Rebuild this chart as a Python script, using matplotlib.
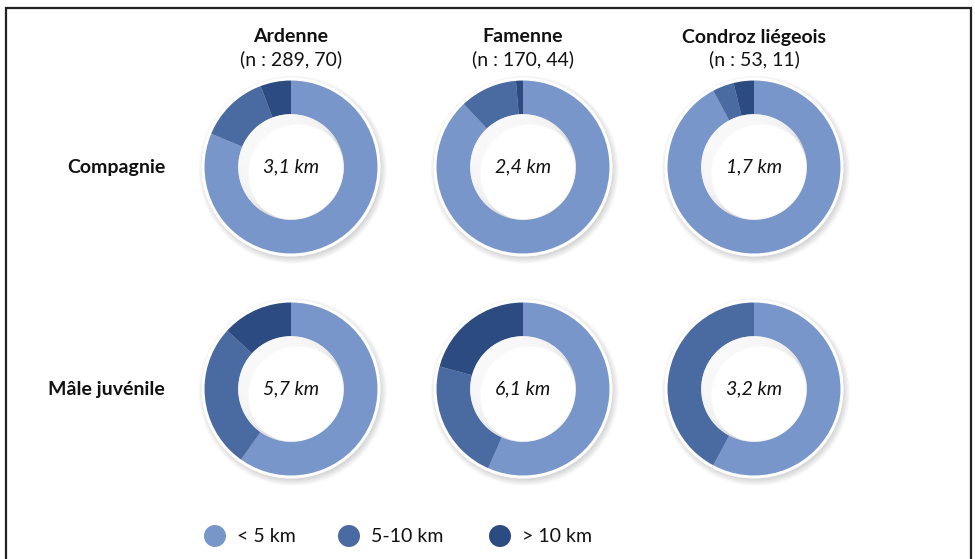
import matplotlib
matplotlib.use("Agg")
import matplotlib.pyplot as plt
from matplotlib.patches import Circle

# ---- data ----
regions = ["Ardenne", "Famenne", "Condroz liégeois"]
sample_sizes = ["(n : 289, 70)", "(n : 170, 44)", "(n : 53, 11)"]
groups = ["Compagnie", "Mâle juvénile"]
categories = ["< 5 km", "5-10 km", "> 10 km"]
# shares (%) per group, per region: [<5, 5-10, >10]
compagnie = [[81.3, 13.0, 5.7], [88.0, 10.7, 1.3], [92.2, 4.0, 3.8]]
male_juvenile = [[59.8, 27.0, 13.2], [56.6, 22.6, 20.8], [57.8, 42.2, 0.0]]
median_compagnie = ["3,1 km", "2,4 km", "1,7 km"]
median_male = ["5,7 km", "6,1 km", "3,2 km"]

colors = ["#7896CA", "#4A6AA2", "#2C4B80"]

W, H = 975, 559
fig = plt.figure(figsize=(W / 100, H / 100), dpi=100)
fig.patch.set_facecolor("white")

FONT = "Lato"
FS = 14

# frame (open at the bottom)
bg = fig.add_axes([0, 0, 1, 1])
bg.set_xlim(0, W)
bg.set_ylim(H, 0)
bg.axis("off")
bg.plot([5.5, 5.5, 971, 971], [H + 5, 8, 8, H + 5], color="#222222", lw=1.6,
        solid_joinstyle="miter", clip_on=False)

col_x = [291, 523, 754]
row_y = [167, 389]
R = 88  # outer radius in px
box = 220

data_rows = [compagnie, male_juvenile]
med_rows = [median_compagnie, median_male]

for r, (vals_row, med_row) in enumerate(zip(data_rows, med_rows)):
    for c in range(3):
        cx, cy = col_x[c], row_y[r]
        ax = fig.add_axes([(cx - box / 2) / W, 1 - (cy + box / 2) / H, box / W, box / H])
        lim = box / 2 / R
        # soft outer shadow
        for k in range(8):
            ax.add_patch(Circle((0.02, -0.03), 1.0 + 0.01 * k, color="black",
                                alpha=0.018, lw=0, zorder=0))
        vals = vals_row[c]
        ax.pie(vals, colors=colors, startangle=90, counterclock=False, radius=1.0,
               wedgeprops=dict(width=0.4, linewidth=0), normalize=True)
        ax.set_xlim(-lim, lim)
        ax.set_ylim(-lim, lim)
        ax.set_aspect("equal")
        ax.axis("off")
        # white hole
        hole = Circle((0, 0), 0.6, color="white", lw=0, zorder=3)
        ax.add_patch(hole)
        # inner shadow in hole (upper-left side), clipped to the hole
        for k in range(7):
            ring = Circle((0.012 * k, -0.012 * k), 0.6 - 0.006 * k, fill=False,
                          ec="black", lw=1.6, alpha=0.022, zorder=4)
            ax.add_patch(ring)
            ring.set_clip_path(hole)
        # white outer edge
        ax.add_patch(Circle((0, 0), 1.0, fill=False, ec="white", lw=2.2, zorder=5))
        ax.text(0, 0, med_row[c], ha="center", va="center", fontsize=FS,
                style="italic", family=FONT, color="#111111", zorder=6)

# column headers
for c in range(3):
    bg.text(col_x[c], 37, regions[c], ha="center", va="center", fontsize=FS,
            fontweight="bold", family=FONT, color="#111111")
    bg.text(col_x[c], 59, sample_sizes[c], ha="center", va="center", fontsize=FS,
            family=FONT, color="#111111")

# row labels
for r in range(2):
    bg.text(165, row_y[r], groups[r], ha="right", va="center", fontsize=FS,
            fontweight="bold", family=FONT, color="#111111")

# legend
leg_x = [215, 349, 500]
for i in range(3):
    bg.add_patch(Circle((leg_x[i], 536), 11, color=colors[i], lw=0))
    bg.text(leg_x[i] + 22, 536, categories[i], ha="left", va="center", fontsize=FS,
            family=FONT, color="#111111")

fig.savefig("out.png", dpi=100, facecolor="white")
